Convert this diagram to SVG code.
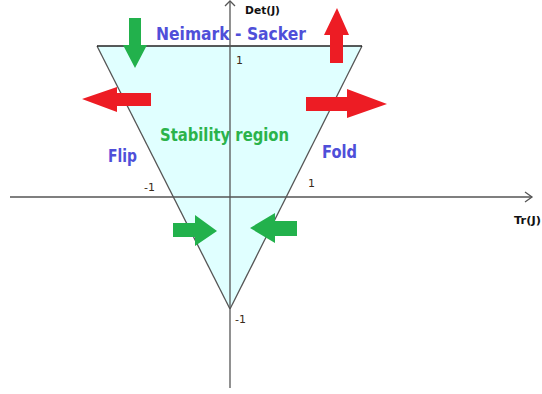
<svg xmlns="http://www.w3.org/2000/svg" width="542" height="394" viewBox="0 0 542 394">
<style>
.axis{stroke:#555;stroke-width:1.3;fill:none}
.edge{stroke:#555;stroke-width:1.3;fill:none}
.big{font-family:"DejaVu Sans",Verdana,sans-serif;font-weight:bold;font-size:17px}
.blue{fill:#4f4fd9}
.green{fill:#2bb34b}
.tick{font-family:"DejaVu Sans",Verdana,sans-serif;font-size:11px;fill:#3a2a1a}
.lab{font-family:"DejaVu Sans",Verdana,sans-serif;font-weight:bold;font-size:11px;fill:#111}
.red{fill:#ed1c24}
.garr{fill:#22b14c}
</style>
<rect width="542" height="394" fill="#fff"/>
<g id="region">
<polygon points="97,46 362,46 230,309" fill="#e0ffff"/>
<line class="edge" x1="97" y1="46" x2="230" y2="309"/>
<line class="edge" x1="362" y1="46" x2="230" y2="309"/>
<line x1="97" y1="46" x2="362" y2="46" stroke="#222" stroke-width="1.3"/>
</g>
<g id="axes">
<line class="axis" x1="10" y1="197" x2="532" y2="197"/>
<polyline class="axis" points="525,192 532,197 525,202"/>
<line class="axis" x1="230" y1="1" x2="230" y2="388"/>
<polyline class="axis" points="225,6 230,1 235,6"/>
</g>
<g id="labels">
<text class="lab" x="245" y="14" textLength="35" lengthAdjust="spacingAndGlyphs">Det(J)</text>
<text class="lab" x="514" y="224" textLength="27" lengthAdjust="spacingAndGlyphs">Tr(J)</text>
<text class="big blue" x="156" y="40" textLength="150" lengthAdjust="spacingAndGlyphs">Neimark - Sacker</text>
<text class="big green" x="160" y="141" textLength="129" lengthAdjust="spacingAndGlyphs">Stability region</text>
<text class="big blue" x="108" y="162" textLength="29" lengthAdjust="spacingAndGlyphs">Flip</text>
<text class="big blue" x="322" y="158" textLength="35" lengthAdjust="spacingAndGlyphs">Fold</text>
<text class="tick" x="236" y="64">1</text>
<text class="tick" x="144" y="191">-1</text>
<text class="tick" x="308" y="187">1</text>
<text class="tick" x="235" y="323">-1</text>
</g>
<g id="arrows">
<polygon class="garr" points="129,18 141,18 141,45 147,45 135,68 123,45 129,45"/>
<polygon class="red" points="337,8 349,35 343,35 343,63 330,63 330,35 324,35"/>
<polygon class="red" points="82,99 117,87 117,93 151,93 151,106 117,106 117,112"/>
<polygon class="red" points="306,97 347,97 347,89 387,104 347,118 347,111 306,111"/>
<polygon class="garr" points="173,223 195,223 195,215 217,231 195,246 195,237 173,237"/>
<polygon class="garr" points="250,228 275,213 275,221 297,221 297,236 275,236 275,243"/>
</g>
</svg>
